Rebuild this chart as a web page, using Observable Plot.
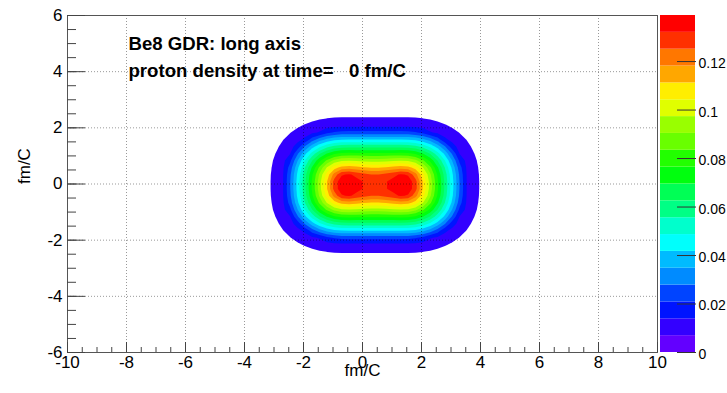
<!DOCTYPE html>
<html>
<head>
<meta charset="utf-8">
<script src="https://cdn.jsdelivr.net/npm/d3@7"></script>
<script src="https://cdn.jsdelivr.net/npm/@observablehq/plot@0.6"></script>
<style>
html, body { margin: 0; padding: 0; background: #fff; }
#chart { position: relative; width: 727px; height: 393px; overflow: hidden; }
#chart svg { position: absolute; top: 0; }
#chart text { white-space: pre; }
</style>
</head>
<body>
<div id="chart"></div>
<script>
// ---------- data ----------
const titleLines = ["Be8 GDR: long axis", "proton density at time=   0 fm/C"];
const xAxisTitle = "fm/C";
const yAxisTitle = "fm/C";
const xTickValues = [-10, -8, -6, -4, -2, 0, 2, 4, 6, 8, 10];
const yTickValues = [-6, -4, -2, 0, 2, 4, 6];
const xGridValues = [-8, -6, -4, -2, 0, 2, 4, 6, 8];
const yGridValues = [-4, -2, 0, 2, 4];
const colorTickValues = [0, 0.02, 0.04, 0.06, 0.08, 0.1, 0.12];
const densityMax = 0.139;      // top of the colour bar
const contourCount = 20;       // number of colour bands
const gridCenter = [0.42, -0.04]; // fm, centre of the (symmetric) density
const gridStep = 0.25;         // fm between samples
// proton density, one quadrant (x >= centre, y >= centre),
// rows: y offset 0.125, 0.375, ... 2.875 ; columns: x offset 0.125, 0.375, ... 4.125
const densityQuadrant = [
  [0.1288, 0.1316, 0.1347, 0.1383, 0.1366, 0.1280, 0.1109, 0.0943, 0.0776, 0.0608, 0.0440, 0.0273, 0.0131, 0.0094, 0.0056, 0.0019, 0],
  [0.1255, 0.1276, 0.1300, 0.1330, 0.1312, 0.1209, 0.1070, 0.0916, 0.0756, 0.0593, 0.0428, 0.0263, 0.0130, 0.0092, 0.0055, 0.0018, 0],
  [0.1107, 0.1120, 0.1136, 0.1154, 0.1140, 0.1080, 0.0978, 0.0850, 0.0706, 0.0554, 0.0397, 0.0237, 0.0125, 0.0088, 0.0051, 0.0015, 0],
  [0.0943, 0.0950, 0.0959, 0.0969, 0.0961, 0.0922, 0.0848, 0.0746, 0.0624, 0.0487, 0.0342, 0.0191, 0.0116, 0.0081, 0.0045, 0.0009, 0],
  [0.0775, 0.0777, 0.0781, 0.0785, 0.0779, 0.0751, 0.0697, 0.0617, 0.0514, 0.0395, 0.0264, 0.0136, 0.0103, 0.0069, 0.0035, 0, 0],
  [0.0600, 0.0600, 0.0600, 0.0600, 0.0596, 0.0575, 0.0533, 0.0469, 0.0384, 0.0282, 0.0165, 0.0116, 0.0086, 0.0054, 0.0022, 0, 0],
  [0.0416, 0.0416, 0.0416, 0.0416, 0.0413, 0.0396, 0.0363, 0.0311, 0.0240, 0.0152, 0.0119, 0.0093, 0.0066, 0.0036, 0.0005, 0, 0],
  [0.0231, 0.0231, 0.0231, 0.0231, 0.0229, 0.0216, 0.0188, 0.0145, 0.0127, 0.0110, 0.0090, 0.0067, 0.0042, 0.0014, 0, 0, 0],
  [0.0118, 0.0118, 0.0118, 0.0118, 0.0118, 0.0115, 0.0110, 0.0102, 0.0091, 0.0076, 0.0058, 0.0038, 0.0015, 0, 0, 0, 0],
  [0.0077, 0.0077, 0.0077, 0.0077, 0.0077, 0.0075, 0.0070, 0.0063, 0.0053, 0.0041, 0.0025, 0.0007, 0, 0, 0, 0, 0],
  [0.0036, 0.0036, 0.0036, 0.0036, 0.0035, 0.0034, 0.0030, 0.0024, 0.0015, 0.0004, 0, 0, 0, 0, 0, 0, 0],
  [0, 0, 0, 0, 0, 0, 0, 0, 0, 0, 0, 0, 0, 0, 0, 0, 0]
];

// ---------- build ----------
const FONT = '"Liberation Sans", Arial, Helvetica, sans-serif';
const levels = d3.range(1, contourCount).map(j => j * densityMax / contourCount);
// ROOT "pretty" palette (50 colours, violet -> red), picked for 20 contours
const palette = d3.range(contourCount).map(j => {
  const idx = Math.floor((j + 0.99) * 50 / contourCount);
  return d3.hsl(280 - (idx + 1) * 5.6, 1, 0.5).formatHex();
});
const colorSpec = {type: "threshold", domain: levels, range: palette};

const nU = densityQuadrant[0].length, nV = densityQuadrant.length;
const fullRows = [...densityQuadrant.slice().reverse(), ...densityQuadrant]
  .map(r => [...r.slice().reverse(), ...r]);
const gridValues = fullRows.flat();

const tickColor = "#444";
const main = Plot.plot({
  width: 727, height: 393,
  marginLeft: 67, marginRight: 70, marginTop: 15, marginBottom: 41,
  style: {fontFamily: FONT, background: "white", color: "#000", overflow: "visible"},
  x: {domain: [-10, 10]},
  y: {domain: [-6, 6]},
  color: colorSpec,
  marks: [
    Plot.contour(gridValues, {
      width: 2 * nU, height: 2 * nV,
      x1: gridCenter[0] - nU * gridStep, x2: gridCenter[0] + nU * gridStep,
      y1: gridCenter[1] - nV * gridStep, y2: gridCenter[1] + nV * gridStep,
      fill: Plot.identity, thresholds: levels
    }),
    Plot.ruleX(xGridValues, {stroke: "#000", strokeOpacity: 0.4, strokeDasharray: "1,2"}),
    Plot.ruleY(yGridValues, {stroke: "#000", strokeOpacity: 0.4, strokeDasharray: "1,2"}),
    Plot.frame({stroke: "#555"}),
    // inward ticks
    Plot.axisX({ticks: xTickValues, tickSize: 10, dy: -10, fill: "none", stroke: tickColor}),
    Plot.axisX({ticks: d3.range(-10, 10.001, 0.5), tickSize: 5, dy: -5, fill: "none", stroke: tickColor}),
    Plot.axisY({ticks: yTickValues, tickSize: 18, dx: 18, fill: "none", stroke: tickColor}),
    Plot.axisY({ticks: d3.range(-6, 6.001, 0.5), tickSize: 9, dx: 9, fill: "none", stroke: tickColor}),
    // tick labels
    Plot.axisX({ticks: xTickValues, tickSize: 0, tickPadding: 3, tickFormat: d => String(d), label: null, fontSize: 17}),
    Plot.axisY({ticks: yTickValues, tickSize: 0, tickPadding: 5, tickFormat: d => String(d), label: null, fontSize: 17}),
    // axis titles
    Plot.text([xAxisTitle], {text: d => d, frameAnchor: "bottom", dy: 23, fontSize: 17}),
    Plot.text([yAxisTitle], {text: d => d, frameAnchor: "left", dx: -43, rotate: -90, fontSize: 17}),
    // titles
    Plot.text([titleLines[0]], {text: d => d, frameAnchor: "top-left", textAnchor: "start", dx: 61, dy: 21, fontSize: 18.6, fontWeight: "bold"}),
    Plot.text([titleLines[1]], {text: d => d, frameAnchor: "top-left", textAnchor: "start", dx: 61, dy: 48, fontSize: 18.6, fontWeight: "bold"})
  ]
});

const bands = d3.range(contourCount).map(j => ({lo: j * densityMax / contourCount, hi: (j + 1) * densityMax / contourCount}));
const bar = Plot.plot({
  width: 67, height: 393,
  marginLeft: 0, marginRight: 32, marginTop: 15, marginBottom: 41,
  style: {fontFamily: FONT, background: "transparent", color: "#000", overflow: "visible"},
  y: {domain: [0, densityMax]},
  color: colorSpec,
  marks: [
    Plot.rect(bands, {y1: "lo", y2: "hi", fill: "lo"}),
    Plot.axisY({anchor: "right", ticks: colorTickValues, tickSize: 19, dx: -19, fill: "none", stroke: "#333"}),
    Plot.axisY({anchor: "right", ticks: colorTickValues, tickSize: 0, tickPadding: 3, dy: 2, tickFormat: d => String(d), label: null, fontSize: 14})
  ]
});

const chart = document.getElementById("chart");
main.style.left = "0px";
bar.style.left = "660px";
chart.appendChild(main);
chart.appendChild(bar);
</script>
</body>
</html>
